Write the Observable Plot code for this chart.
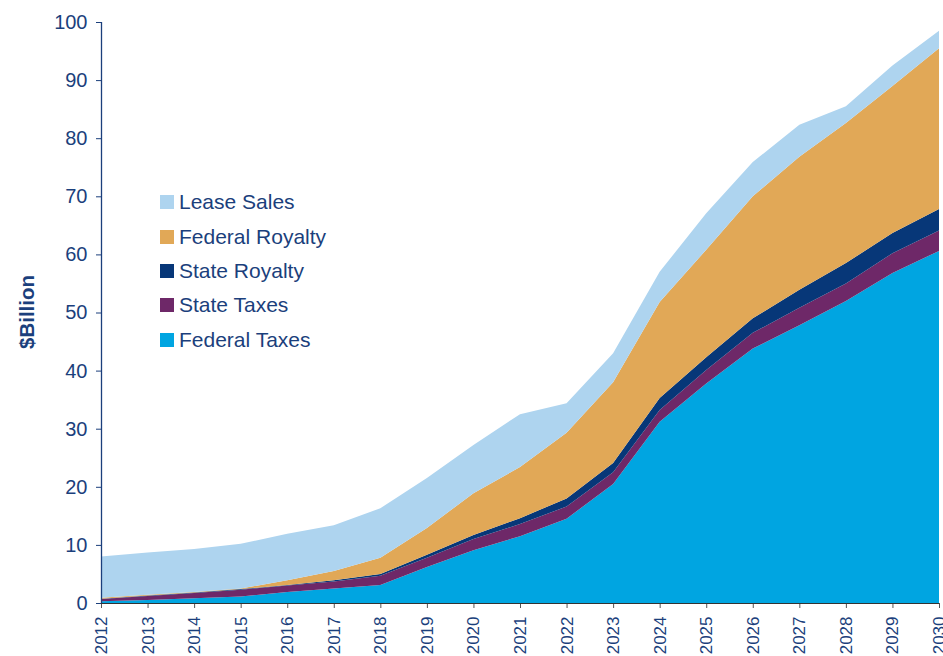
<!DOCTYPE html>
<html>
<head>
<meta charset="utf-8">
<script src="https://cdn.jsdelivr.net/npm/d3@7"></script>
<script src="https://cdn.jsdelivr.net/npm/@observablehq/plot@0.6"></script>
<style>
  html, body { margin: 0; padding: 0; background: #fff; }
  #wrap { position: relative; width: 943px; height: 656px; font-family: "Liberation Sans", Arial, sans-serif; }
  #chart { position: absolute; left: 0; top: 0; }
  #ylabel { position: absolute; left: 27px; top: 312px; transform: translate(-50%, -50%) rotate(-90deg); color: #1b3f7c; font-weight: bold; font-size: 20.5px; white-space: nowrap; }
  #legend { position: absolute; left: 160px; top: 185px; }
  .item { display: flex; align-items: center; height: 34.4px; color: #1b3f7c; font-size: 21px; }
  .sw { width: 14px; height: 14px; margin-right: 5px; }
</style>
</head>
<body>
<div id="wrap">
  <div id="chart"></div>
  <div id="ylabel">$Billion</div>
  <div id="legend"></div>
</div>
<script>
const years = [2012,2013,2014,2015,2016,2017,2018,2019,2020,2021,2022,2023,2024,2025,2026,2027,2028,2029,2030];
const seriesNames = ["Federal Taxes","State Taxes","State Royalty","Federal Royalty","Lease Sales"];
const seriesColors = ["#00a5e1","#6e2868","#073778","#e1a857","#aed4ef"];
const federalTaxes   = [0.3,0.5,0.8,1.1,1.9,2.5,3.1,6.2,9.1,11.5,14.5,20.5,31.2,37.8,43.8,47.8,52.0,56.8,60.6];
const stateTaxes     = [0.4,0.7,0.9,1.2,1.1,1.2,1.6,1.6,1.9,2.1,2.1,2.0,2.0,2.3,2.7,3.0,3.0,3.4,3.5];
const stateRoyalty   = [0.05,0.1,0.1,0.1,0.1,0.2,0.3,0.5,0.7,1.0,1.4,1.6,2.1,2.2,2.5,3.1,3.5,3.5,3.7];
const federalRoyalty = [0.15,0.1,0.1,0.1,0.8,1.6,2.8,4.6,7.2,8.8,11.3,13.9,16.5,18.5,21.0,22.9,24.1,25.3,27.7];
const leaseSales     = [7.1,7.3,7.4,7.7,8.0,7.9,8.5,8.6,8.3,9.1,5.1,5.0,5.2,6.3,5.9,5.5,2.9,3.5,3.0];
const yTicks = [0,10,20,30,40,50,60,70,80,90,100];
const legendOrder = ["Lease Sales","Federal Royalty","State Royalty","State Taxes","Federal Taxes"];

const seriesValues = [federalTaxes, stateTaxes, stateRoyalty, federalRoyalty, leaseSales];
const data = [];
seriesNames.forEach((s, i) => years.forEach((y, j) => data.push({year: y, series: s, value: seriesValues[i][j]})));

const textColor = "#1b3f7c";
const chart = Plot.plot({
  width: 943, height: 656,
  marginLeft: 101, marginRight: 4, marginTop: 22, marginBottom: 53,
  style: {fontFamily: "Liberation Sans, Arial, sans-serif", background: "#fff", overflow: "visible"},
  x: {domain: [2012, 2030]},
  y: {domain: [0, 100]},
  color: {domain: seriesNames, range: seriesColors},
  marks: [
    Plot.areaY(data, {x: "year", y: "value", fill: "series", z: "series", order: seriesNames}),
    Plot.axisY({ticks: yTicks, tickSize: 5, tickPadding: 9, fontSize: 20, color: textColor, stroke: textColor, label: null}),
    Plot.ruleX([2012], {stroke: textColor, strokeWidth: 1.3}),
    Plot.axisX({ticks: years, tickFormat: d3.format("d"), tickSize: 5, tickRotate: -90, tickPadding: 8, fontSize: 17, color: textColor, stroke: "#555", label: null}),
    Plot.ruleY([0], {stroke: "#333", strokeWidth: 1})
  ]
});
document.getElementById("chart").appendChild(chart);

const legend = document.getElementById("legend");
legendOrder.forEach(name => {
  const it = document.createElement("div");
  it.className = "item";
  const sw = document.createElement("div");
  sw.className = "sw";
  sw.style.background = seriesColors[seriesNames.indexOf(name)];
  const t = document.createElement("span");
  t.textContent = name;
  it.appendChild(sw); it.appendChild(t);
  legend.appendChild(it);
});
</script>
</body>
</html>
